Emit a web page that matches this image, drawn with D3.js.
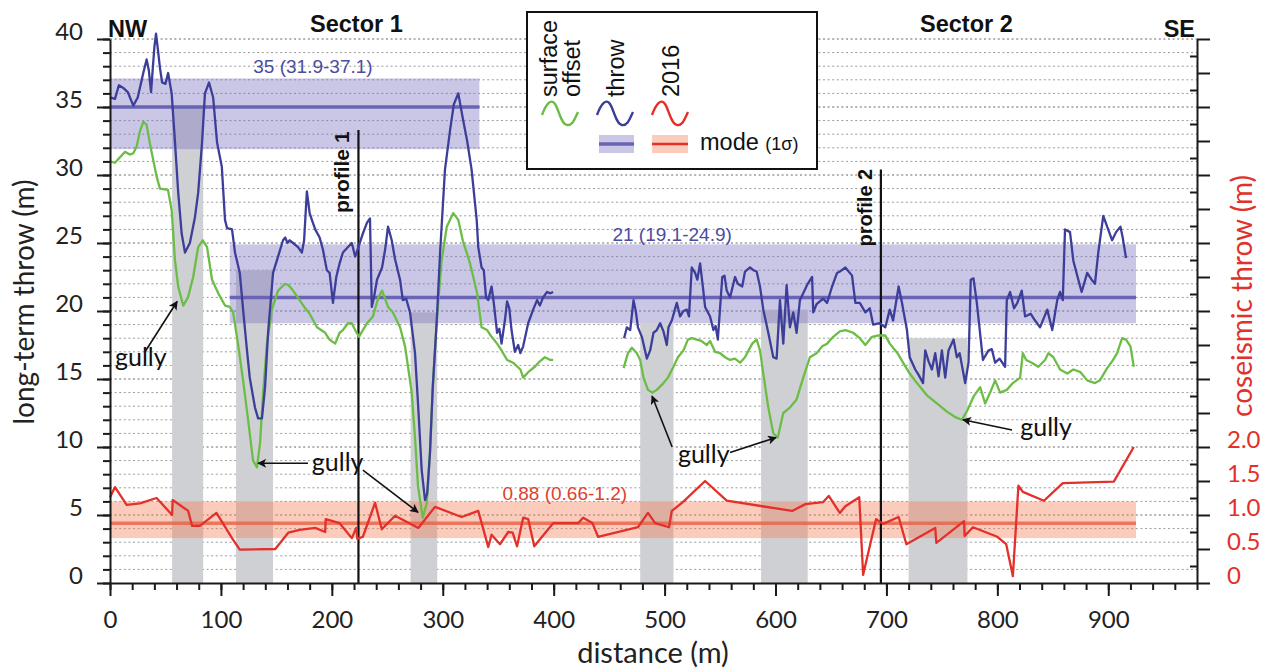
<!DOCTYPE html>
<html><head><meta charset="utf-8">
<script src="https://cdn.jsdelivr.net/npm/d3@7"></script>
<style>body{margin:0;background:#fff}svg{display:block}</style>
</head><body>
<svg id="c" width="1265" height="670"></svg>
<script>
// ---------------- data ----------------
const throwData = [[0,35.7],[4.5,35.6],[8,36.6],[12,36.4],[16,36.1],[21,35.1],[25,35.7],[30,37.5],[33,38.5],[35,37.7],[37,36.1],[40,39.4],[41.5,40.4],[43.5,39],[45,37.9],[47,36.8],[50,36.7],[52.4,37.5],[55.6,36],[58.6,32.4],[61.5,28.7],[64.6,25.7],[67.6,24.3],[72,25],[76.6,26.9],[79.5,28.7],[83,32.4],[85.6,36],[89.3,36.8],[93,35.7],[96.5,32.4],[100.8,30.6],[103.7,26.7],[105.5,26.1],[110,26],[112.7,24.3],[117,22.8],[120,20.1],[123.5,17.1],[126,15.1],[130.7,12.9],[133.5,12.1],[137,12.1],[139.8,14.4],[142.5,18.4],[147,22.8],[151.5,24],[156,25.2],[158,25.4],[160,25],[162,25.2],[165,25],[169.5,24.7],[173,24.3],[175,25.2],[177.5,28.8],[180,27.2],[182,26.7],[185,26],[189,25.4],[192,24.5],[195.5,23],[198,22.8],[201,20.6],[204,22.5],[207,23.5],[210,24.3],[214.6,24.7],[218,25],[221,24],[224,24.7],[228,25.7],[231.7,26.5],[234.4,26.8],[236,20.3],[238,21],[240.7,22.3],[245.3,23.2],[248,24.5],[250.7,26.2],[254,25.2],[257,23.8],[261.5,22.3],[264,20.8],[267,20.9],[270.5,19.9],[275,16.9],[277.7,13.2],[281,8.3],[284,6.1],[286,6.6],[288.5,9.6],[291,14.4],[294.6,19.3],[297.6,24.3],[302,30.4],[306.6,33.3],[310,35.2],[314,36],[318,34.2],[322,32.5],[326,30.4],[330.6,26.7],[332,24.7],[335,23.2],[337,23],[339,21],[341,20.8],[344,21.8],[346,20.6],[349,18.4],[351,18.7],[353,17.6],[356,19.3],[358,20.7],[360,20.2],[362,18.6],[365,17],[368,17.5],[370,16.9],[372.5,17.4],[377,19.1],[381.5,20.1],[385,20.8],[387.5,20.4],[390.5,21],[394,21.4],[397,21.3],[399.5,21.4],
null,
[463.5,18],[466,18.8],[469,18.6],[472,20.8],[474,20],[476,18.8],[479.5,18.1],[484,16.5],[487,17.1],[490,18.4],[493,18.6],[496,19.1],[499,18.5],[502,17.5],[503.5,18.8],[506.5,19.3],[511,20.6],[514,19.6],[517,20],[520,20.1],[522,19.6],[524.5,23.2],[527.5,22.8],[529.5,22.3],[532,23.5],[534.5,21.8],[536.5,20.3],[541,19.6],[544,18.6],[546,18.9],[548,17.9],[552,22.5],[554,22.6],[556,21.5],[559,21],[563.5,22.5],[566,22],[570,21.8],[572.5,22.9],[577,23.2],[580,23],[583,22.9],[586,21.8],[589,20.1],[593.5,18.4],[598,16.6],[601,16.5],[604,20.8],[607,17.6],[610,21.9],[613,18.8],[616,19.9],[619,18.4],[622,20.8],[625,21.3],[629,22],[633,22.5],[634,19.9],[637,20.5],[640,20.7],[643,20.9],[646.5,20.6],[651,21.8],[655.5,22.8],[658,22.9],[663,23.2],[669,22.6],[672,20.6],[676,20.6],[681,19.9],[685,20.2],[688,19],[694,19.1],[699,18.8],[703,20.1],[706,19.3],[711,21.8],[714,20.6],[718.5,18.6],[721,16.6],[726,15.7],[729,15.3],[733,14.7],[735,17.1],[738,16.3],[741,15.7],[744,16.9],[747,15.2],[750,17.1],[753,15.1],[756,17.1],[760.5,17.9],[763.5,16.6],[766,16.9],[771,14.7],[774,16.2],[776,22.3],[778.5,22.4],[781.5,20.6],[787,16.4],[792,17.1],[795,17.2],[798,16.2],[802,16.5],[807,15.9],[808.5,20.8],[811.5,21.4],[815,20.2],[818,20.6],[822,21.5],[825,19.6],[830,19.8],[834,19.3],[838.5,18.8],[845,20.1],[849.5,18.6],[854,20.8],[856.5,21.4],[859,20.8],[861,26],[865.5,25.8],[868.5,23.7],[873,22.3],[876,21.4],[881,22.8],[885,22.3],[888,22],[891,24.3],[895.5,27],[899,26.2],[903.5,25.2],[907,25.8],[911,26.2],[913,25.4],[916,23.9]];

const surfaceData = [[0,31],[4.5,30.9],[9,31.3],[13.5,31.7],[18,31.5],[21,31.6],[24,32.1],[27,33.2],[30,33.9],[33,33.7],[36,32.3],[42,29.9],[45,29],[52.3,28.9],[55.6,27.4],[58.6,23.7],[61.5,21.8],[66,20.4],[70.3,21],[75,22.5],[79.5,24.7],[83.6,25.2],[87.5,24.7],[92,22.3],[97.6,21.3],[103.7,20.4],[108,20.3],[111,19.9],[115.4,17.6],[120,14.9],[124.5,12],[129,9],[132.5,8.5],[135.3,10.3],[138,14],[141.5,17.6],[146,20.1],[151.5,21.5],[157.8,22],[161,21.9],[165,21.5],[171,20.8],[176,20.2],[180,19.8],[186.6,18.8],[194,18.4],[198,17.9],[203,17.6],[207,18.4],[210,18.6],[214.6,19.1],[218,19.1],[221,18.6],[224.5,18.1],[228,18.6],[231.7,19.1],[237,19.6],[242,21],[245.3,21.5],[250.7,20.3],[255,19.9],[261.5,18.8],[266,17.4],[268.7,15.9],[272,14],[275,10.7],[277.7,7.1],[282,4.8],[285.6,5.9],[288.5,9.6],[291,14.4],[294.6,19.3],[299,23.7],[303.6,26.2],[309.5,27.2],[314,26.7],[318,25.2],[324.6,23.5],[331,21.3],[335,18.8],[340,18.6],[344,18.1],[349,17.6],[353,17.1],[358,16.4],[363.4,16.2],[370,15.7],[372.5,15.1],[377,15.5],[383,15.9],[387.5,16.3],[392,16.6],[397,16.4],[399.5,16.4],
null,
[463,15.8],[467,16.9],[470.5,17.3],[475,16.9],[478,16.4],[481,15.1],[485,14.2],[489,14],[493,14.2],[499,14.7],[503,15.1],[508,15.9],[512,16.6],[517,17.1],[521,17.9],[524.5,18],[529,17.9],[533,17.8],[538,17.5],[541,17.8],[545.5,17],[550,16.9],[554.5,16.6],[559,16.4],[563.5,16.5],[568,16.2],[572.5,16.6],[579,17.6],[583,17.9],[586,17.1],[589,15.4],[593.5,12.9],[598,11],[602,10.7],[607,12.5],[613,12.9],[619,13.5],[625,15.1],[631,16.6],[637,16.9],[642,17.4],[646.5,17.6],[652,18.1],[658,18.5],[663,18.6],[670,18.4],[676,18],[681,17.5],[687,18.1],[693,18.2],[699,18.2],[703,17.6],[710,16.9],[715,16.2],[721,15.4],[727.5,14.7],[736.5,13.8],[745.5,13.2],[754.5,12.6],[762,12.2],[768,12],[773,12.7],[778.5,13.7],[784.5,14.4],[789,13.2],[793.5,14],[798,14.9],[802.5,14],[808.5,14.2],[814,14.7],[820.5,15.1],[823,16.9],[826,16.4],[831,16.2],[837,15.9],[843,16.4],[846,16.9],[850.5,16.6],[856.5,15.7],[863,15.4],[868.5,15.7],[875,15.5],[881,14.9],[888,14.7],[892.5,14.9],[899,15.8],[903.5,16.3],[908,16.9],[912.5,18],[916,17.9],[920,17.4],[923,15.9]];

const coseismicData = [[0,1.26],[4.5,1.41],[15,1.15],[27,1.17],[42,1.25],[56,1.0],[56.5,1.22],[70.5,1.06],[74,0.84],[81,0.84],[96,1.03],[110,0.66],[117,0.49],[149,0.5],[160.7,0.74],[171,0.78],[185,0.81],[194,0.75],[194.5,0.94],[207,0.88],[218,0.66],[222,0.81],[223,0.65],[228,0.68],[239,1.18],[245,0.79],[257,0.99],[278,0.81],[293,1.12],[317,0.97],[332,1.06],[341,0.53],[344,0.71],[351.6,0.57],[359,0.75],[363,0.74],[367,0.54],[372.5,0.96],[377,0.94],[382.5,0.54],[399.5,0.88],[422,0.88],[426.5,0.96],[433,0.9],[435,0.88],[440,0.68],[476,0.82],[485,1.03],[491.5,0.88],[504,0.82],[506.5,1.06],[516.5,1.19],[536.5,1.5],[556,1.21],[615,1.06],[627,1.16],[643,1.19],[648,1.28],[658,1.03],[663,1.13],[675.5,1.26],[679,0.12],[690.7,0.94],[697,0.87],[711,0.97],[718,0.57],[744,0.81],[745,0.59],[770,0.91],[770.5,0.69],[778,0.82],[800,0.68],[808,0.57],[814,0.1],[819,1.43],[823,1.34],[842,1.21],[859,1.47],[905,1.49],[923,2.0]];

// mode bands: [from, to, low, mode, high]
const throwModes = [[0,333,31.9,35,37.1],[108,925,19.1,21,24.9]];
const throwModeLabels = ["35 (31.9-37.1)","21 (19.1-24.9)"];
const coseismicMode = [0,925,0.66,0.88,1.2];
const coseismicModeLabel = "0.88 (0.66-1.2)";
// gullies: [from, to, top (m)]
const gullies = [[56,84,35],[113.6,147,23],[271,295,19.9],[478,508,19.1],[587,629,20.1],[720,773,18]];
// profiles: [distance, top (m), name]
const profiles = [[224,33.3,"profile 1"],[695,30.4,"profile 2"]];
const xTickValues = [0,100,200,300,400,500,600,700,800,900];
const leftTickValues = [0,5,10,15,20,25,30,35,40];
const rightTickLabels = [0,0.5,1.0,1.5,2.0];
// gully annotations (data units)
const gullyLabels = [[4.5,15.95],[182,8.2],[512,8.8],[820.6,10.8]];
const gullyArrows = [[[31.6,17],[60.5,20.7]],[[178.5,8.8],[133.5,8.8]],[[228,8.3],[277.7,5.2]],[[506.8,10],[488.7,13.75]],[[559,9.6],[600.5,10.7]],[[813.3,11.25],[769,12]]];

// ---------------- layout ----------------
const svg = d3.select('#c');
const x = d3.scaleLinear().domain([0,980]).range([110,1197]);
const yL = d3.scaleLinear().domain([0,40]).range([583,39]);
const yR = d3.scaleLinear().domain([0,8]).range([583,39]);
const BLUE='#3c3e9a', GREEN='#6cbd45', RED='#e2302a';
const AX='#1a1a1a';
const fAxis='Lato, "Open Sans", sans-serif';
const fArial='"Liberation Sans", Arial, sans-serif';

svg.append('rect').attr('width',1265).attr('height',670).attr('fill','#fff');

// grid
svg.append('g').selectAll('line').data(d3.range(1,41)).join('line')
  .attr('x1',x(0)).attr('x2',x(980)).attr('y1',d=>yL(d)).attr('y2',d=>yL(d))
  .attr('stroke',d=>d%5===0?'#666':'#9a9a9a').attr('stroke-width',1)
  .attr('stroke-dasharray','2,2.6');

// gully bands
svg.append('g').selectAll('rect').data(gullies).join('rect')
  .attr('x',d=>x(d[0])).attr('width',d=>x(d[1])-x(d[0]))
  .attr('y',d=>yL(d[2])).attr('height',d=>yL(0)-yL(d[2]))
  .attr('fill','#cfd0d4');

// throw mode bands
const tb = svg.append('g');
tb.selectAll('rect').data(throwModes).join('rect')
  .attr('x',d=>x(d[0])).attr('width',d=>x(d[1])-x(d[0]))
  .attr('y',d=>yL(d[4])).attr('height',d=>yL(d[2])-yL(d[4]))
  .attr('fill','#7a70c0').attr('fill-opacity',0.4);
tb.selectAll('line').data(throwModes).join('line')
  .attr('x1',d=>x(d[0])).attr('x2',d=>x(d[1])).attr('y1',d=>yL(d[3])).attr('y2',d=>yL(d[3]))
  .attr('stroke','#6a64b4').attr('stroke-width',3.5);
// coseismic mode band
svg.append('rect').attr('x',x(coseismicMode[0])).attr('width',x(coseismicMode[1])-x(coseismicMode[0]))
  .attr('y',yR(coseismicMode[4])).attr('height',yR(coseismicMode[2])-yR(coseismicMode[4]))
  .attr('fill','#f47c55').attr('fill-opacity',0.4);
svg.append('line').attr('x1',x(coseismicMode[0])).attr('x2',x(coseismicMode[1]))
  .attr('y1',yR(coseismicMode[3])).attr('y2',yR(coseismicMode[3]))
  .attr('stroke','#e8664c').attr('stroke-width',3.5).attr('stroke-opacity',0.85);

// band labels
const labelPos = [[183,37.5],[506.8,25.15]];
svg.append('g').selectAll('text').data(throwModeLabels).join('text')
  .attr('x',(d,i)=>x(labelPos[i][0])).attr('y',(d,i)=>yL(labelPos[i][1]))
  .attr('text-anchor','middle').attr('font-family',fArial).attr('font-size',19)
  .attr('fill','#4b4ba0').text(d=>d);
svg.append('text').attr('x',x(410)).attr('y',yR(1.22)).attr('text-anchor','middle')
  .attr('font-family',fArial).attr('font-size',19).attr('fill','#e0402e').text(coseismicModeLabel);

// profiles
profiles.forEach(p=>{
  svg.append('line').attr('x1',x(p[0])).attr('x2',x(p[0])).attr('y1',yL(0)).attr('y2',yL(p[1]))
    .attr('stroke','#111').attr('stroke-width',2.2);
});
svg.append('text').attr('transform',`translate(${x(profiles[0][0])-9},${yL(profiles[0][1])+83}) rotate(-90)`)
  .attr('font-family',fArial).attr('font-weight','bold').attr('font-size',21).attr('fill','#111').text(profiles[0][2]);
svg.append('text').attr('transform',`translate(${x(profiles[1][0])-9},${yL(profiles[1][1])+77}) rotate(-90)`)
  .attr('font-family',fArial).attr('font-weight','bold').attr('font-size',20).attr('fill','#111').text(profiles[1][2]);

// lines
const mk = (ys)=>d3.line().defined(d=>d!==null).x(d=>x(d[0])).y(d=>ys(d[1]));
svg.append('path').datum(coseismicData).attr('d',mk(yR)).attr('fill','none').attr('stroke',RED).attr('stroke-width',2.3).attr('stroke-linejoin','round');
svg.append('path').datum(surfaceData).attr('d',mk(yL)).attr('fill','none').attr('stroke',GREEN).attr('stroke-width',2.3).attr('stroke-linejoin','round');
svg.append('path').datum(throwData).attr('d',mk(yL)).attr('fill','none').attr('stroke',BLUE).attr('stroke-width',2.3).attr('stroke-linejoin','round');

// arrows
const defs = svg.append('defs');
defs.append('marker').attr('id','ah').attr('viewBox','0 0 10 10').attr('refX',9).attr('refY',5)
  .attr('markerWidth',11).attr('markerHeight',9).attr('markerUnits','userSpaceOnUse').attr('orient','auto')
  .append('path').attr('d','M0,0 L10,5 L0,10 L2.5,5 Z').attr('fill','#111');
svg.append('g').selectAll('line').data(gullyArrows).join('line')
  .attr('x1',d=>x(d[0][0])).attr('y1',d=>yL(d[0][1])).attr('x2',d=>x(d[1][0])).attr('y2',d=>yL(d[1][1]))
  .attr('stroke','#111').attr('stroke-width',1.6).attr('marker-end','url(#ah)');
svg.append('g').selectAll('text').data(gullyLabels).join('text')
  .attr('x',d=>x(d[0])).attr('y',d=>yL(d[1])).attr('font-family',fAxis).attr('font-size',25)
  .attr('fill','#111').text('gully');

// axes
function styleAxis(g){
  g.selectAll('path.domain').attr('stroke',AX).attr('stroke-width',2);
  g.selectAll('.tick line').attr('stroke',AX).attr('stroke-width',2);
}
const gx = svg.append('g').attr('transform',`translate(0,${yL(0)})`);
gx.call(d3.axisBottom(x).tickValues(d3.range(0,981,20)).tickSize(7).tickSizeOuter(0).tickFormat(''));
const gx2 = svg.append('g').attr('transform',`translate(0,${yL(0)})`);
gx2.call(d3.axisBottom(x).tickValues(xTickValues).tickSize(13).tickSizeOuter(0));
gx2.select('path.domain').remove();
gx2.selectAll('.tick text').attr('y',45).attr('dy',0).attr('font-family',fAxis).attr('font-size',24).attr('fill','#222');
styleAxis(gx); styleAxis(gx2);

const gl = svg.append('g').attr('transform',`translate(${x(0)},0)`);
gl.call(d3.axisLeft(yL).tickValues(d3.range(0,41,1)).tickSize(7).tickSizeOuter(0).tickFormat(''));
const gl2 = svg.append('g').attr('transform',`translate(${x(0)},0)`);
gl2.call(d3.axisLeft(yL).tickValues(leftTickValues).tickSize(13).tickSizeOuter(0));
gl2.select('path.domain').remove();
gl2.selectAll('.tick text').attr('x',-27).attr('dy',0).attr('y',0.5).attr('font-family',fAxis).attr('font-size',24).attr('fill','#222');
styleAxis(gl); styleAxis(gl2);

const gr = svg.append('g').attr('transform',`translate(${x(980)},0)`);
gr.call(d3.axisRight(yR).tickValues(d3.range(0.25,8,0.5)).tickSize(-7).tickSizeOuter(0).tickFormat(''));
const gr2 = svg.append('g').attr('transform',`translate(${x(980)},0)`);
gr2.call(d3.axisRight(yR).tickValues(d3.range(0,8.01,0.5)).tickSize(13).tickSizeOuter(0)
  .tickFormat(d=>rightTickLabels.includes(d)?(d===0?'0':d3.format('.1f')(d)):''));
gr2.select('path.domain').remove();
gr2.selectAll('.tick text').attr('x',30).attr('dy',0).attr('y',0.5).attr('font-family',fAxis).attr('font-size',24).attr('fill',RED);
styleAxis(gr); styleAxis(gr2);

// axis titles
svg.append('text').attr('transform','translate(34,302) rotate(-90)').attr('text-anchor','middle')
  .attr('font-family',fAxis).attr('font-size',28).attr('fill','#222').text('long-term throw (m)');
svg.append('text').attr('transform','translate(1252,296) rotate(-90)').attr('text-anchor','middle')
  .attr('font-family',fAxis).attr('font-size',28).attr('fill',RED).text('coseismic throw (m)');
svg.append('text').attr('x',653).attr('y',663).attr('text-anchor','middle')
  .attr('font-family',fAxis).attr('font-size',29).attr('fill','#222').text('distance (m)');

// top labels
const topLabels = [["NW",108,37,'start'],["Sector 1",310,32,'start'],["Sector 2",920,32,'start'],["SE",1195,37,'end']];
svg.append('g').selectAll('text').data(topLabels).join('text')
  .attr('x',d=>d[1]).attr('y',d=>d[2]).attr('text-anchor',d=>d[3])
  .attr('font-family',fArial).attr('font-weight','bold').attr('font-size',23.5).attr('fill','#111').text(d=>d[0]);

// legend
const lg = svg.append('g');
lg.append('rect').attr('x',527).attr('y',12).attr('width',290).attr('height',157)
  .attr('fill','#fff').attr('stroke','#111').attr('stroke-width',2);
const vt = [["surface",557],["offset",580],["throw",624],["2016",679]];
lg.selectAll('text.v').data(vt).join('text').attr('class','v')
  .attr('transform',d=>`translate(${d[1]},97) rotate(-90)`)
  .attr('font-family',fArial).attr('font-size',23.5).attr('fill','#111').text(d=>d[0]);
const squig = (x0)=>`M${x0},115 C${x0+4},104 ${x0+9},98 ${x0+13},104 S${x0+19},124 ${x0+25},125 S${x0+33},118 ${x0+36},112`;
[[542,GREEN],[597,BLUE],[652,RED]].forEach(s=>{
  lg.append('path').attr('d',squig(s[0])).attr('fill','none').attr('stroke',s[1]).attr('stroke-width',2.4);
});
lg.append('rect').attr('x',599).attr('y',135).attr('width',35).attr('height',18).attr('fill','#7a70c0').attr('fill-opacity',0.4);
lg.append('line').attr('x1',599).attr('x2',634).attr('y1',144).attr('y2',144).attr('stroke','#6a64b4').attr('stroke-width',3.5);
lg.append('rect').attr('x',652).attr('y',135).attr('width',36).attr('height',18).attr('fill','#f47c55').attr('fill-opacity',0.4);
lg.append('line').attr('x1',652).attr('x2',688).attr('y1',144).attr('y2',144).attr('stroke',RED).attr('stroke-width',2.5);
const mt = lg.append('text').attr('x',700).attr('y',150).attr('font-family',fArial).attr('font-size',23.5).attr('fill','#111');
mt.append('tspan').text('mode ');
mt.append('tspan').attr('font-size',18).text('(1σ)');
</script>
</body></html>
